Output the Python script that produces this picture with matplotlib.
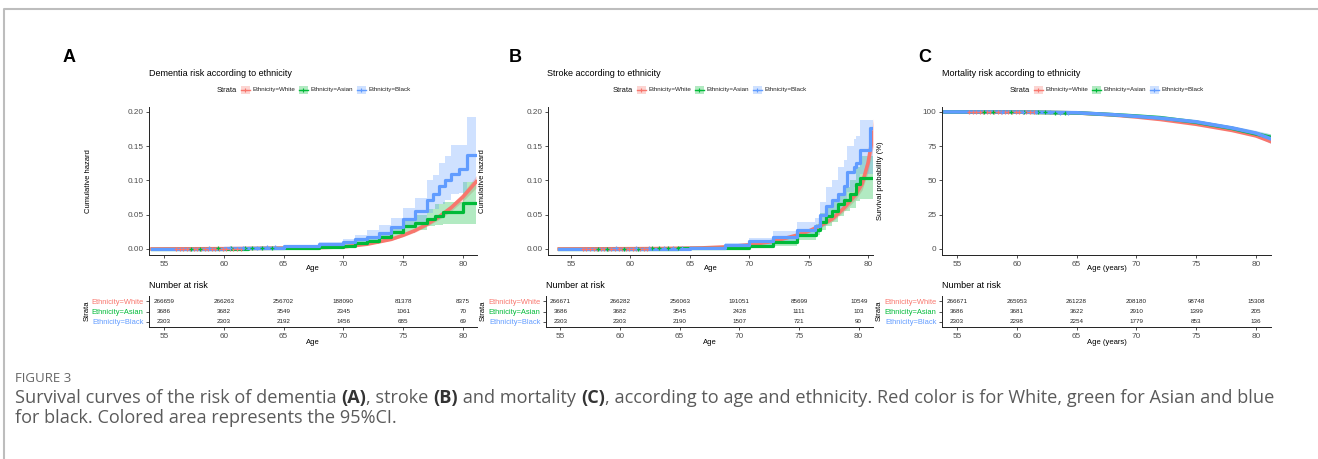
import numpy as np
import matplotlib
matplotlib.use("Agg")
import matplotlib.pyplot as plt
from matplotlib.patches import Rectangle

# ---------------- data ----------------
strata = ["Ethnicity=White", "Ethnicity=Asian", "Ethnicity=Black"]
colors = ["#F8766D", "#00BA38", "#619CFF"]
risk_ages = [55, 60, 65, 70, 75, 80]

# Panel A: dementia cumulative hazard
A_white_age = [54, 60, 65, 68, 70, 72, 74, 75, 76, 77, 78, 79, 80, 81.1]
A_white_val = [0, 0.0004, 0.0012, 0.002, 0.003, 0.007, 0.014, 0.02, 0.027, 0.036, 0.047, 0.06, 0.076, 0.098]
A_white_lo = [0, 0.0003, 0.001, 0.0017, 0.0026, 0.0062, 0.0127, 0.018, 0.0245, 0.033, 0.043, 0.055, 0.07, 0.089]
A_white_hi = [0, 0.0005, 0.0014, 0.0023, 0.0034, 0.0078, 0.0153, 0.022, 0.0295, 0.039, 0.051, 0.065, 0.082, 0.107]

A_asian_age = [54, 62, 66, 68, 70, 71, 72, 73, 74, 75, 76, 77, 77.7, 78.3, 80.0, 81.1]
A_asian_val = [0, 0.001, 0.002, 0.003, 0.005, 0.008, 0.012, 0.018, 0.025, 0.033, 0.038, 0.044, 0.048, 0.054, 0.067, 0.067]
A_asian_lo = [0, 0.0, 0.001, 0.001, 0.002, 0.004, 0.007, 0.011, 0.017, 0.024, 0.028, 0.033, 0.035, 0.036, 0.036, 0.036]
A_asian_hi = [0, 0.002, 0.004, 0.006, 0.009, 0.013, 0.018, 0.025, 0.033, 0.043, 0.05, 0.058, 0.065, 0.069, 0.098, 0.098]

A_black_age = [54, 60, 63, 65, 68, 70, 71, 72, 73, 74, 75, 76, 77, 77.5, 78, 78.5, 79, 79.7, 80.3, 81.1]
A_black_val = [0, 0.001, 0.002, 0.004, 0.007, 0.01, 0.014, 0.018, 0.024, 0.032, 0.043, 0.055, 0.072, 0.08, 0.092, 0.1, 0.11, 0.116, 0.137, 0.137]
A_black_lo = [0, 0.0, 0.001, 0.002, 0.004, 0.006, 0.008, 0.011, 0.016, 0.022, 0.03, 0.038, 0.052, 0.058, 0.065, 0.072, 0.08, 0.082, 0.098, 0.098]
A_black_hi = [0, 0.002, 0.004, 0.006, 0.01, 0.015, 0.02, 0.027, 0.035, 0.045, 0.06, 0.075, 0.1, 0.108, 0.125, 0.135, 0.152, 0.152, 0.192, 0.192]

# Panel B: stroke cumulative hazard
B_white_age = [54, 62, 66, 68, 70, 72, 74, 75, 76, 77, 78, 79, 79.5, 80, 80.45]
B_white_val = [0, 0.0005, 0.0015, 0.003, 0.006, 0.011, 0.02, 0.026, 0.034, 0.044, 0.06, 0.08, 0.095, 0.125, 0.17]
B_white_lo = [0, 0.0004, 0.0013, 0.0027, 0.0055, 0.010, 0.018, 0.024, 0.031, 0.040, 0.055, 0.073, 0.086, 0.112, 0.15]
B_white_hi = [0, 0.0006, 0.0017, 0.0033, 0.0065, 0.012, 0.022, 0.028, 0.037, 0.048, 0.065, 0.087, 0.104, 0.138, 0.19]

B_asian_age = [54, 64, 68, 70, 72, 74, 75.6, 76, 76.5, 77, 77.5, 78, 78.5, 79.0, 79.3, 80.45]
B_asian_val = [0, 0.001, 0.002, 0.005, 0.01, 0.02, 0.028, 0.04, 0.048, 0.056, 0.065, 0.072, 0.08, 0.095, 0.104, 0.104]
B_asian_lo = [0, 0.0, 0.001, 0.002, 0.005, 0.013, 0.02, 0.028, 0.034, 0.04, 0.048, 0.055, 0.06, 0.07, 0.073, 0.073]
B_asian_hi = [0, 0.002, 0.004, 0.008, 0.015, 0.028, 0.036, 0.053, 0.062, 0.073, 0.082, 0.09, 0.1, 0.12, 0.135, 0.135]

B_black_age = [54, 65, 68, 70, 72, 74, 75.5, 76, 76.5, 77, 77.5, 78, 78.2, 78.8, 79.0, 79.3, 80.2, 80.45]
B_black_val = [0, 0.002, 0.006, 0.011, 0.018, 0.028, 0.033, 0.05, 0.062, 0.072, 0.08, 0.092, 0.112, 0.12, 0.125, 0.145, 0.177, 0.177]
B_black_lo = [0, 0.001, 0.003, 0.006, 0.011, 0.018, 0.023, 0.033, 0.043, 0.05, 0.058, 0.066, 0.083, 0.09, 0.093, 0.11, 0.11, 0.11]
B_black_hi = [0, 0.004, 0.009, 0.016, 0.026, 0.04, 0.045, 0.068, 0.09, 0.1, 0.12, 0.13, 0.15, 0.16, 0.165, 0.188, 0.188, 0.188]

# Panel C: survival probability (%)
C_white_age = [54, 60, 65, 68, 70, 72, 75, 78, 80, 81.2]
C_white_val = [100, 99.9, 99.3, 97.8, 96.3, 94.5, 91.0, 86.5, 82.5, 78.5]
C_white_lo = [100, 99.85, 99.2, 97.7, 96.2, 94.3, 90.8, 86.2, 82.0, 77.5]
C_white_hi = [100, 99.95, 99.4, 97.9, 96.4, 94.7, 91.2, 86.8, 83.0, 79.5]

C_asian_age = [54, 60, 65, 68, 70, 72, 75, 78, 80, 81.2]
C_asian_val = [100, 99.9, 99.3, 98.0, 97.0, 95.8, 92.5, 88.0, 84.0, 81.5]
C_asian_lo = [100, 99.7, 99.0, 97.5, 96.3, 95.0, 91.3, 86.5, 82.0, 78.5]
C_asian_hi = [100, 100, 99.6, 98.5, 97.7, 96.6, 93.7, 89.5, 86.0, 84.0]

C_black_age = [54, 60, 65, 68, 70, 72, 75, 78, 80, 81.2]
C_black_val = [100, 99.9, 99.4, 98.0, 96.8, 95.5, 92.8, 88.3, 84.5, 80.5]
C_black_lo = [100, 99.7, 99.0, 97.4, 96.0, 94.6, 91.5, 86.7, 82.5, 77.0]
C_black_hi = [100, 100, 99.8, 98.6, 97.6, 96.4, 94.1, 89.9, 86.5, 84.0]

# censor marks (ages)
cens_white = [56.0, 56.3, 56.6, 56.9, 57.2, 57.5, 57.8, 58.1, 58.4, 58.7, 59.0, 59.3, 59.6, 59.9, 60.2, 60.5, 60.8, 61.1, 61.4]
cens_asian = [57.3, 58.0, 59.5, 60.6, 61.8, 62.4, 63.2, 64.0]
cens_black = [58.8, 60.5, 61.6, 62.8, 63.6, 64.3]

# risk tables
A_risk = [[266659, 266263, 256702, 188090, 81378, 8375],
          [3686, 3682, 3549, 2345, 1061, 70],
          [2303, 2303, 2192, 1456, 685, 69]]
B_risk = [[266671, 266282, 256063, 191051, 85699, 10549],
          [3686, 3682, 3545, 2428, 1111, 103],
          [2303, 2303, 2190, 1507, 721, 90]]
C_risk = [[266671, 265953, 261228, 208180, 98748, 15308],
          [3686, 3681, 3622, 2910, 1399, 205],
          [2303, 2298, 2254, 1779, 853, 136]]

# ---------------- figure ----------------
W, H = 1318, 459
plt.rcParams['font.family'] = ['Liberation Sans', 'DejaVu Sans']
fig = plt.figure(figsize=(W / 100, H / 100), dpi=100)
fig.patch.set_facecolor('white')


def rect(l, t, r, b):
    return [l / W, 1 - b / H, (r - l) / W, (b - t) / H]


ov = fig.add_axes([0, 0, 1, 1])
ov.set_xlim(0, W)
ov.set_ylim(H, 0)
ov.axis('off')

# outer frame
ov.plot([4, 4, W + 5], [H + 5, 8.5, 8.5], color='#bdbdbd', lw=1.5, solid_capstyle='butt')

TICK_C = '#4D4D4D'


def style_axes(ax):
    for s in ['top', 'right']:
        ax.spines[s].set_visible(False)
    for s in ['left', 'bottom']:
        ax.spines[s].set_linewidth(0.7)
        ax.spines[s].set_color('#222222')
    ax.tick_params(direction='out', length=2.5, width=0.6, color='#333333',
                   labelsize=5.9, labelcolor=TICK_C, pad=1.5)
    ax.set_facecolor('none')


def draw_panel(ax, series, step_flags, xlim, ylim, yticks, yticklabels):
    for (age, val, lo, hi), col, stepf in zip(series, colors, step_flags):
        age = np.asarray(age); val = np.asarray(val)
        if stepf:
            ax.fill_between(age, lo, hi, step='post', color=col, alpha=0.3, lw=0)
            ax.step(age, val, where='post', color=col, lw=2.3)
        else:
            ax.fill_between(age, lo, hi, color=col, alpha=0.3, lw=0)
            ax.plot(age, val, color=col, lw=2.6)
    # censor marks
    for (age, val, lo, hi), col, stepf, cens in zip(series, colors, step_flags,
                                                    [cens_white, cens_asian, cens_black]):
        cy = np.interp(cens, age, val)
        ax.plot(cens, cy, ls='none', marker='+', ms=3.5, mew=0.9, color=col)
    ax.set_xlim(*xlim)
    ax.set_ylim(*ylim)
    ax.set_xticks(risk_ages)
    ax.set_yticks(yticks)
    ax.set_yticklabels(yticklabels)
    style_axes(ax)


def draw_table(ax, data, xlim):
    for i, row in enumerate(data):
        for a, n in zip(risk_ages, row):
            ax.text(a, 2 - i, str(n), ha='center', va='center', fontsize=4.5, color='#222222')
    ax.set_xlim(*xlim)
    ax.set_ylim(-0.5, 2.5)
    ax.set_xticks(risk_ages)
    ax.set_yticks([2, 1, 0])
    ax.set_yticklabels(strata)
    style_axes(ax)
    ax.tick_params(axis='y', labelsize=5.4)
    for lab, col in zip(ax.get_yticklabels(), colors):
        lab.set_color(col)


def legend(x0, y):
    ov.text(x0, y, "Strata", fontsize=5.4, va='center', ha='left', color='#111111')
    x = x0 + 24
    for lab, col in zip(strata, colors):
        ov.add_patch(Rectangle((x, y - 4), 8.5, 8, facecolor=col, alpha=0.3, lw=0))
        ov.plot([x, x + 8.5], [y, y], color=col, lw=1.0)
        ov.plot([x + 4.25], [y], marker='+', ms=3.5, mew=0.8, color=col)
        ov.text(x + 11.5, y, lab, fontsize=4.5, va='center', ha='left', color='#222222')
        x += 58


panels = [
    dict(letter='A', lx=63, title="Dementia risk according to ethnicity", tx=149, legx=217,
         main=(149, 107, 477, 255), mxlim=(53.75, 81.17), table=(149, 296, 477, 327), txlim=(53.75, 81.17),
         series=[(A_white_age, A_white_val, A_white_lo, A_white_hi),
                 (A_asian_age, A_asian_val, A_asian_lo, A_asian_hi),
                 (A_black_age, A_black_val, A_black_lo, A_black_hi)],
         steps=[False, True, True], ylim=(-0.0088, 0.207), yt=[0, 0.05, 0.1, 0.15, 0.2],
         ytl=["0.00", "0.05", "0.10", "0.15", "0.20"], ylab="Cumulative hazard", ylx=88,
         xlab="Age", risk=A_risk, slx=87),
    dict(letter='B', lx=509, title="Stroke according to ethnicity", tx=547, legx=613,
         main=(548, 107, 873, 255), mxlim=(53.06, 80.42), table=(546, 296, 873, 327), txlim=(53.8, 81.2),
         series=[(B_white_age, B_white_val, B_white_lo, B_white_hi),
                 (B_asian_age, B_asian_val, B_asian_lo, B_asian_hi),
                 (B_black_age, B_black_val, B_black_lo, B_black_hi)],
         steps=[False, True, True], ylim=(-0.0088, 0.207), yt=[0, 0.05, 0.1, 0.15, 0.2],
         ytl=["0.00", "0.05", "0.10", "0.15", "0.20"], ylab="Cumulative hazard", ylx=483,
         xlab="Age", risk=B_risk, slx=483),
    dict(letter='C', lx=918, title="Mortality risk according to ethnicity", tx=942, legx=1010,
         main=(942, 107, 1271, 255), mxlim=(53.75, 81.25), table=(942, 296, 1271, 327), txlim=(53.75, 81.25),
         series=[(C_white_age, C_white_val, C_white_lo, C_white_hi),
                 (C_asian_age, C_asian_val, C_asian_lo, C_asian_hi),
                 (C_black_age, C_black_val, C_black_lo, C_black_hi)],
         steps=[False, False, False], ylim=(-4.4, 103.6), yt=[0, 25, 50, 75, 100],
         ytl=["0", "25", "50", "75", "100"], ylab="Survival probability (%)", ylx=880,
         xlab="Age (years)", risk=C_risk, slx=879),
]

for p in panels:
    ov.text(p['lx'], 58, p['letter'], fontsize=13, fontweight='bold', ha='left', va='center', color='black')
    ov.text(p['tx'], 73, p['title'], fontsize=6.5, ha='left', va='center', color='black')
    legend(p['legx'], 90)
    l, t, r, b = p['main']
    ax = fig.add_axes(rect(l, t, r, b))
    draw_panel(ax, p['series'], p['steps'], p['mxlim'], p['ylim'], p['yt'], p['ytl'])
    ov.text(p['ylx'], 181, p['ylab'], rotation=90, fontsize=5.5, ha='center', va='center', color='black')
    ov.text((l + r) / 2, 269, p['xlab'], fontsize=5.5, ha='center', va='center', color='black')
    l, t, r, b = p['table']
    tx = fig.add_axes(rect(l, t, r, b))
    draw_table(tx, p['risk'], p['txlim'])
    ov.text(l, 286, "Number at risk", fontsize=6.5, ha='left', va='center', color='black')
    ov.text(p['slx'], 311, "Strata", rotation=90, fontsize=5.5, ha='center', va='center', color='black')
    ov.text((l + r) / 2, 343, p['xlab'], fontsize=5.5, ha='center', va='center', color='black')

# ---------------- caption ----------------
CAP = '#5a5a5a'
cf = ['Open Sans', 'DejaVu Sans']
CFS = 13.1
ov.text(15, 378, "FIGURE 3", fontsize=9.5, family=cf, color='#666666', ha='left', va='center')
segs = [("Survival curves of the risk of dementia ", False), ("(A)", True), (", stroke ", False), ("(B)", True),
        (" and mortality ", False), ("(C)", True),
        (", according to age and ethnicity. Red color is for White, green for Asian and blue", False)]
prev = ov.text(15, 403, segs[0][0], fontsize=CFS, family=cf, color=CAP, ha='left', va='baseline')
for s, bold in segs[1:]:
    prev = ov.annotate(s, xy=(1, 0), xycoords=prev, ha='left', va='bottom', fontsize=CFS, family=cf,
                       color='#333333' if bold else CAP, fontweight='bold' if bold else 'normal')
ov.text(15, 423, "for black. Colored area represents the 95%CI.", fontsize=CFS, family=cf, color=CAP,
        ha='left', va='baseline')

fig.savefig('out.png', dpi=100, facecolor='white')
